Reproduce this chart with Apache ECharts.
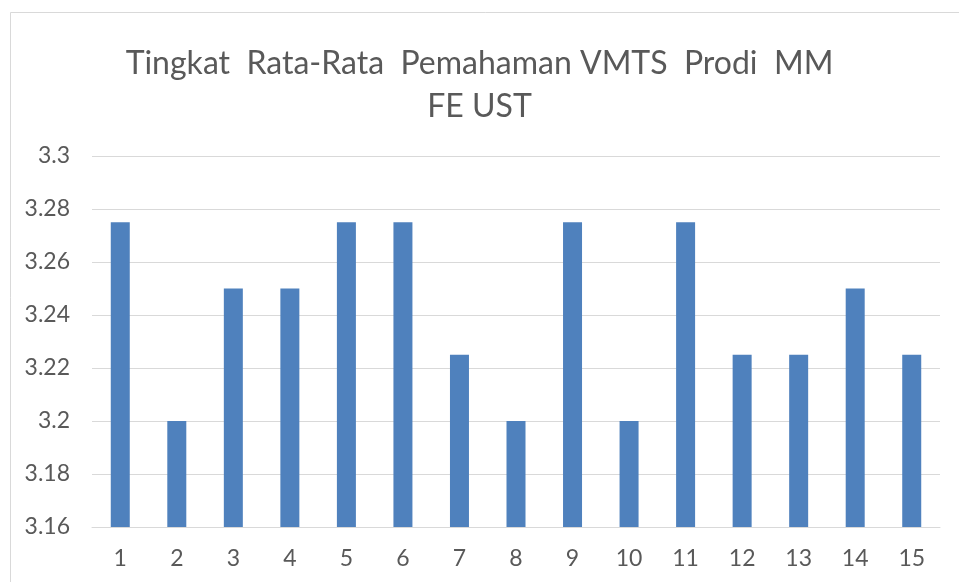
<!DOCTYPE html>
<html><head><meta charset="utf-8">
<script src="https://cdn.jsdelivr.net/npm/echarts@6/dist/echarts.min.js"></script>
<style>html,body{margin:0;padding:0;background:#fff}#c{width:959px;height:582px}</style>
</head><body><div id="c"></div>
<script>
const categories = ['1','2','3','4','5','6','7','8','9','10','11','12','13','14','15'];
const values = [3.275, 3.2, 3.25, 3.25, 3.275, 3.275, 3.225, 3.2, 3.275, 3.2, 3.275, 3.225, 3.225, 3.25, 3.225];
const titleText = 'Tingkat  Rata-Rata  Pemahaman VMTS  Prodi  MM\nFE UST';
const yTicks = {min: 3.16, max: 3.3, interval: 0.02};

const chart = echarts.init(document.getElementById('c'), null, {renderer: 'canvas'});
chart.setOption({
  animation: false,
  backgroundColor: '#fff',
  graphic: [{
    type: 'rect', shape: {x: 10.5, y: 12.5, width: 1000, height: 1000},
    style: {fill: 'none', stroke: '#d9d9d9', lineWidth: 1}, silent: true, z: -1
  }],
  title: {
    text: titleText, left: 'center', top: 37,
    textStyle: {fontFamily: 'Lato', fontSize: 32, fontWeight: 'normal', color: '#595959', lineHeight: 43}
  },
  grid: {left: 92, right: 19, top: 156, bottom: 55},
  xAxis: {
    type: 'category', data: categories,
    axisLine: {show: true, lineStyle: {color: '#d9d9d9', width: 1}},
    axisTick: {show: false},
    axisLabel: {color: '#595959', fontFamily: 'Lato', fontSize: 23, margin: 20}
  },
  yAxis: {
    type: 'value', min: yTicks.min, max: yTicks.max, interval: yTicks.interval,
    axisLine: {show: false}, axisTick: {show: false},
    splitLine: {lineStyle: {color: '#d9d9d9', width: 1}},
    axisLabel: {color: '#595959', fontFamily: 'Lato', fontSize: 23, margin: 22,
      formatter: v => String(parseFloat(v.toFixed(2)))}
  },
  series: [{
    type: 'bar', data: values, barWidth: 19,
    itemStyle: {color: '#4f81bd'}
  }]
});
</script></body></html>
